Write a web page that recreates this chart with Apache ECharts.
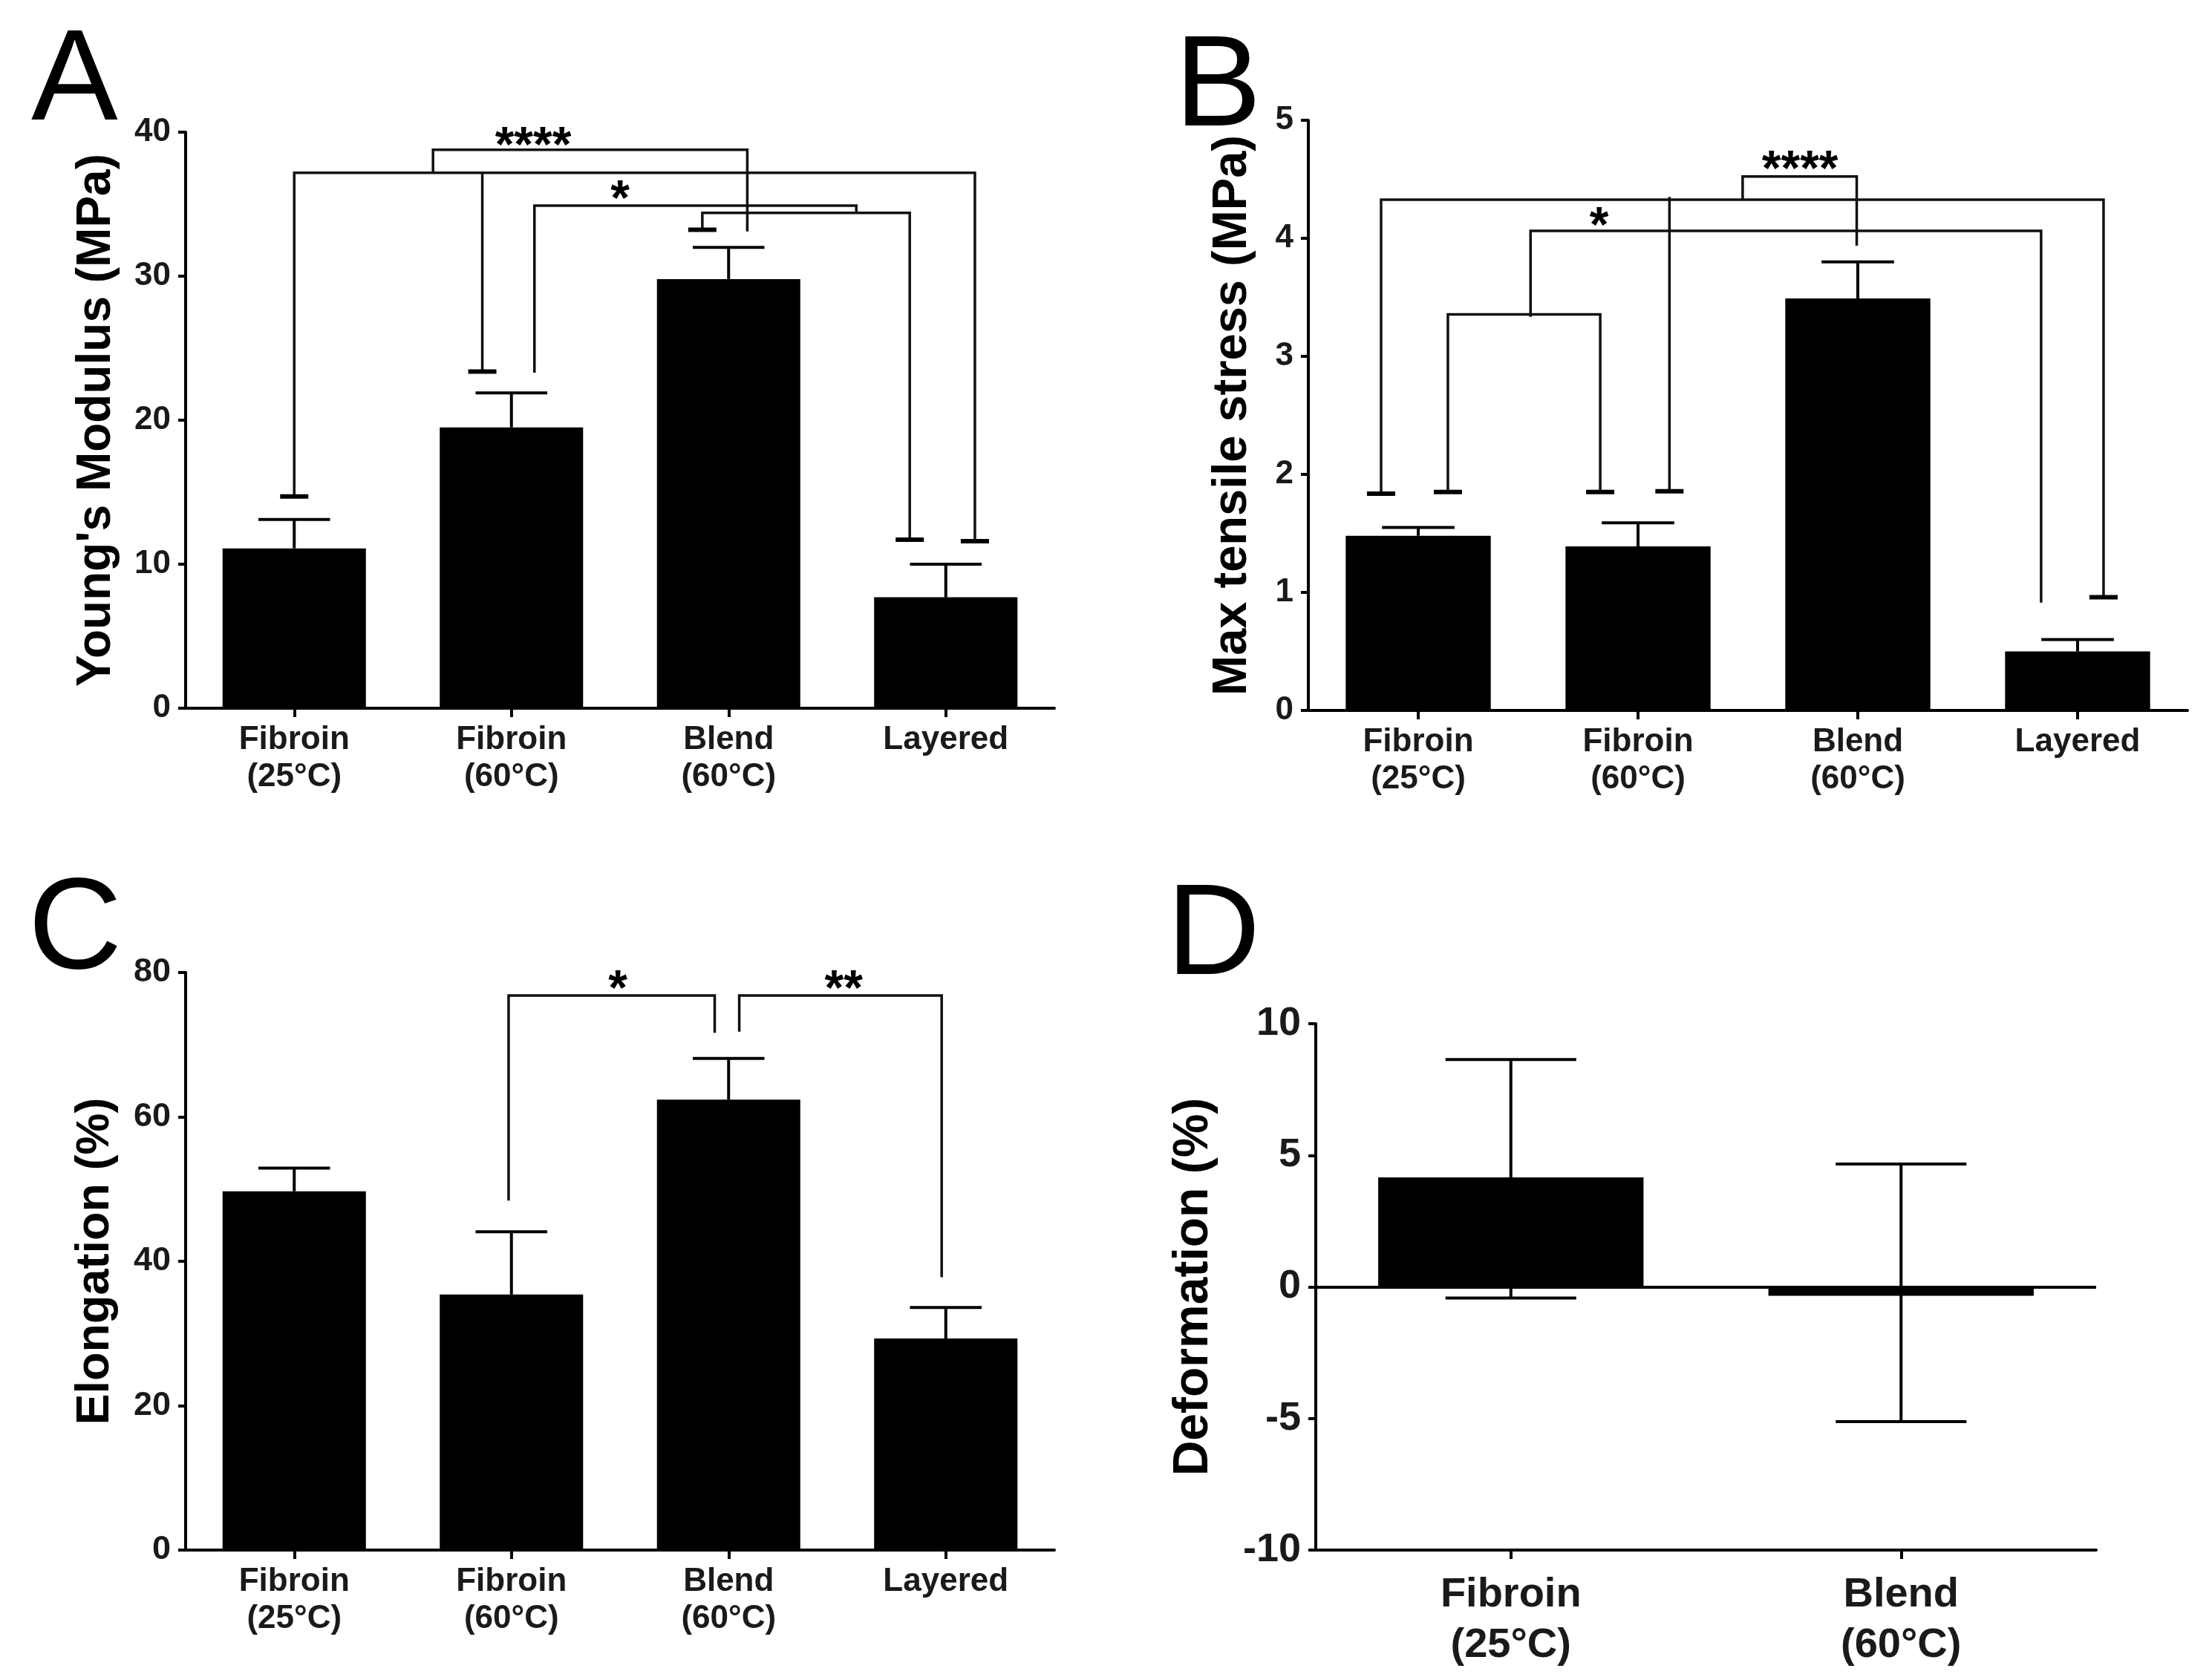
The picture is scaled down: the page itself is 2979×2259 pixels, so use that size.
<!DOCTYPE html>
<html><head><meta charset="utf-8">
<script src="https://cdn.jsdelivr.net/npm/echarts@6/dist/echarts.min.js"></script>
<style>html,body{margin:0;padding:0;background:#fff;}#c{width:2979px;height:2259px;}</style>
</head><body><div id="c"></div>
<script>
// ---------- data ----------
const categories4 = ['Fibroin\n(25°C)', 'Fibroin\n(60°C)', 'Blend\n(60°C)', 'Layered'];
const categoriesD = ['Fibroin\n(25°C)', 'Blend\n(60°C)'];

const modulusMean = [11.1, 19.5, 29.8, 7.7];
const modulusErr  = [2.0, 2.4, 2.2, 2.3];
const stressMean  = [1.48, 1.39, 3.49, 0.50];
const stressErr   = [0.07, 0.20, 0.31, 0.10];
const elongMean   = [49.7, 35.4, 62.4, 29.3];
const elongErr    = [3.2, 8.7, 5.7, 4.3];
const deformMean    = [4.16, -0.34];
const deformErrUp   = [4.48, 5.01];
const deformErrDown = [4.58, 4.78];

const ticksA = {min: 0, max: 40, step: 10};
const ticksB = {min: 0, max: 5, step: 1};
const ticksC = {min: 0, max: 80, step: 20};
const ticksD = {min: -10, max: 10, step: 5};

// significance brackets: paths in (category position, value) units; caps = path points with a T end
const bracketsA = [
  {path: [[0, 14.7], [0, 37.18], [3.134, 37.18], [3.134, 11.6]], caps: [0, 3]},
  {path: [[0.866, 37.18], [0.866, 23.38]], caps: [1]},
  {path: [[0.639, 37.18], [0.639, 38.78], [2.086, 38.78], [2.086, 33.1]], caps: []},
  {path: [[1.106, 23.3], [1.106, 34.9], [2.588, 34.9], [2.588, 34.39]], caps: []},
  {path: [[1.879, 33.22], [1.879, 34.39], [2.834, 34.39], [2.834, 11.7]], caps: [0, 3]}
];
const sigA = [{text: '****', x: 1.10, y: 39.6}, {text: '*', x: 1.50, y: 35.9}];

const bracketsB = [
  {path: [[-0.169, 1.836], [-0.169, 4.327], [3.118, 4.327], [3.118, 0.959]], caps: [0, 3]},
  {path: [[1.143, 4.35], [1.143, 1.857]], caps: [1]},
  {path: [[1.476, 4.327], [1.476, 4.524], [1.995, 4.524], [1.995, 3.937]], caps: []},
  {path: [[0.511, 3.335], [0.511, 4.063], [2.834, 4.063], [2.834, 0.914]], caps: []},
  {path: [[0.135, 1.85], [0.135, 3.356], [0.828, 3.356], [0.828, 1.85]], caps: [0, 3]}
];
const sigB = [{text: '****', x: 1.737, y: 4.65}, {text: '*', x: 0.823, y: 4.17}];

const bracketsC = [
  {path: [[0.987, 48.4], [0.987, 76.8], [1.936, 76.8], [1.936, 71.65]], caps: []},
  {path: [[2.049, 71.8], [2.049, 76.8], [2.981, 76.8], [2.981, 37.8]], caps: []}
];
const sigC = [{text: '*', x: 1.49, y: 78.8}, {text: '**', x: 2.53, y: 78.8}];

// ---------- styling helpers ----------
const FONT = "'Liberation Sans', Arial, Helvetica, sans-serif";
const BLACK = '#000';

function catAxis(grid, data, fs, lh, margin) {
  return {
    type: 'category', gridIndex: grid, data: data,
    axisLine: {show: true, onZero: false, lineStyle: {color: BLACK, width: 4}},
    axisTick: {show: true, alignWithLabel: true, length: 12, lineStyle: {color: BLACK, width: 4}},
    axisLabel: {interval: 0, fontSize: fs, lineHeight: lh, margin: margin, fontWeight: 'bold', color: '#1a1a1a', fontFamily: FONT},
    splitLine: {show: false}
  };
}
function posAxis(grid, n) {
  return {type: 'value', gridIndex: grid, min: -0.5, max: n - 0.5, show: false};
}
function valAxis(grid, t, name, nameGap, nameFs, labelFs) {
  return {
    type: 'value', gridIndex: grid, min: t.min, max: t.max, interval: t.step,
    name: name, nameLocation: 'middle', nameGap: nameGap,
    nameTextStyle: {fontSize: nameFs, fontWeight: 'bold', color: BLACK, fontFamily: FONT},
    axisLine: {show: true, onZero: false, lineStyle: {color: BLACK, width: 4}},
    axisTick: {show: true, length: 10, lineStyle: {color: BLACK, width: 4}},
    axisLabel: {fontSize: labelFs, fontWeight: 'bold', color: '#1a1a1a', margin: 20, fontFamily: FONT},
    splitLine: {show: false}
  };
}
function barSeries(xi, yi, data, width) {
  return {type: 'bar', xAxisIndex: xi, yAxisIndex: yi, data: data, barWidth: width,
    itemStyle: {color: BLACK}, silent: true, z: 2};
}
function errSeries(xi, yi, means, up, down, capFrac) {
  return {
    type: 'custom', xAxisIndex: xi, yAxisIndex: yi, silent: true, z: 4,
    data: means.map((m, i) => [i, m - down[i], m + up[i], down[i] > 0 ? 1 : 0]),
    renderItem: function (params, api) {
      const lo = api.coord([api.value(0), api.value(1)]);
      const hi = api.coord([api.value(0), api.value(2)]);
      const h = api.size([1, 0])[0] * capFrac / 2;
      const st = {stroke: BLACK, lineWidth: 4};
      const ch = [
        {type: 'line', shape: {x1: lo[0], y1: lo[1], x2: hi[0], y2: hi[1]}, style: st},
        {type: 'line', shape: {x1: hi[0] - h, y1: hi[1], x2: hi[0] + h, y2: hi[1]}, style: st}
      ];
      if (api.value(3) > 0) ch.push({type: 'line', shape: {x1: lo[0] - h, y1: lo[1], x2: lo[0] + h, y2: lo[1]}, style: st});
      return {type: 'group', children: ch};
    }
  };
}
function bracketSeries(xi, yi, brackets) {
  return {
    type: 'custom', xAxisIndex: xi, yAxisIndex: yi, silent: true, z: 5,
    data: brackets.map((b, i) => [b.path[0][0], b.path[0][1], i]),
    renderItem: function (params, api) {
      const b = brackets[api.value(2)];
      const pts = b.path.map(p => api.coord(p));
      const ch = [{type: 'polyline', shape: {points: pts}, style: {stroke: '#111', lineWidth: 3.5, fill: null}}];
      b.caps.forEach(ci => {
        const p = pts[ci];
        ch.push({type: 'line', shape: {x1: p[0] - 19, y1: p[1], x2: p[0] + 19, y2: p[1]}, style: {stroke: BLACK, lineWidth: 6}});
      });
      return {type: 'group', children: ch};
    }
  };
}
function sigSeries(xi, yi, sigs) {
  return {
    type: 'custom', xAxisIndex: xi, yAxisIndex: yi, silent: true, z: 6,
    data: sigs.map((s, i) => [s.x, s.y, i]),
    renderItem: function (params, api) {
      const p = api.coord([api.value(0), api.value(1)]);
      return {type: 'text', x: p[0], y: p[1] + 13,
        style: {text: sigs[api.value(2)].text, fontSize: 66, fontWeight: 'bold', fontFamily: FONT, fill: BLACK,
          align: 'center', verticalAlign: 'middle', textAlign: 'center', textVerticalAlign: 'middle'}};
    }
  };
}
function letter(t, x, y) {
  return {type: 'text', x: x, y: y, style: {text: t, fontSize: 175, fontFamily: FONT, fill: BLACK,
    textVerticalAlign: 'middle', verticalAlign: 'middle'}};
}

const option = {
  animation: false,
  backgroundColor: '#fff',
  grid: [
    {left: 250, top: 178, width: 1170, height: 776, outerBoundsMode: 'none'},
    {left: 1762, top: 162, width: 1184, height: 795, outerBoundsMode: 'none'},
    {left: 250, top: 1310, width: 1170, height: 778, outerBoundsMode: 'none'},
    {left: 1772, top: 1379, width: 1051, height: 709, outerBoundsMode: 'none'}
  ],
  xAxis: [
    catAxis(0, categories4, 44, 50, 18), posAxis(0, 4),
    catAxis(1, categories4, 44, 50, 18), posAxis(1, 4),
    catAxis(2, categories4, 44, 50, 18), posAxis(2, 4),
    catAxis(3, categoriesD, 56, 68, 27)
  ],
  yAxis: [
    valAxis(0, ticksA, "Young's Modulus (MPa)", 88, 64, 44),
    valAxis(1, ticksB, 'Max tensile stress (MPa)', 69, 65, 44),
    valAxis(2, ticksC, 'Elongation (%)', 90, 63, 45),
    valAxis(3, ticksD, 'Deformation (%)', 131, 66, 54)
  ],
  graphic: [letter('A', 42, 113), letter('B', 1582, 121), letter('C', 38, 1256), letter('D', 1571, 1264)],
  series: [
    barSeries(0, 0, modulusMean, '66%'),
    errSeries(0, 0, modulusMean, modulusErr, [0, 0, 0, 0], 0.33),
    bracketSeries(1, 0, bracketsA), sigSeries(1, 0, sigA),

    barSeries(2, 1, stressMean, '66%'),
    errSeries(2, 1, stressMean, stressErr, [0, 0, 0, 0], 0.33),
    bracketSeries(3, 1, bracketsB), sigSeries(3, 1, sigB),

    barSeries(4, 2, elongMean, '66%'),
    errSeries(4, 2, elongMean, elongErr, [0, 0, 0, 0], 0.33),
    bracketSeries(5, 2, bracketsC), sigSeries(5, 2, sigC),

    Object.assign(barSeries(6, 3, deformMean, '68%'), {
      markLine: {silent: true, symbol: 'none', label: {show: false},
        lineStyle: {color: BLACK, width: 4, type: 'solid'}, data: [{yAxis: 0}]}
    }),
    errSeries(6, 3, deformMean, deformErrUp, deformErrDown, 0.335)
  ]
};
const chart = echarts.init(document.getElementById('c'), null, {renderer: 'canvas'});
chart.setOption(option);
</script></body></html>
